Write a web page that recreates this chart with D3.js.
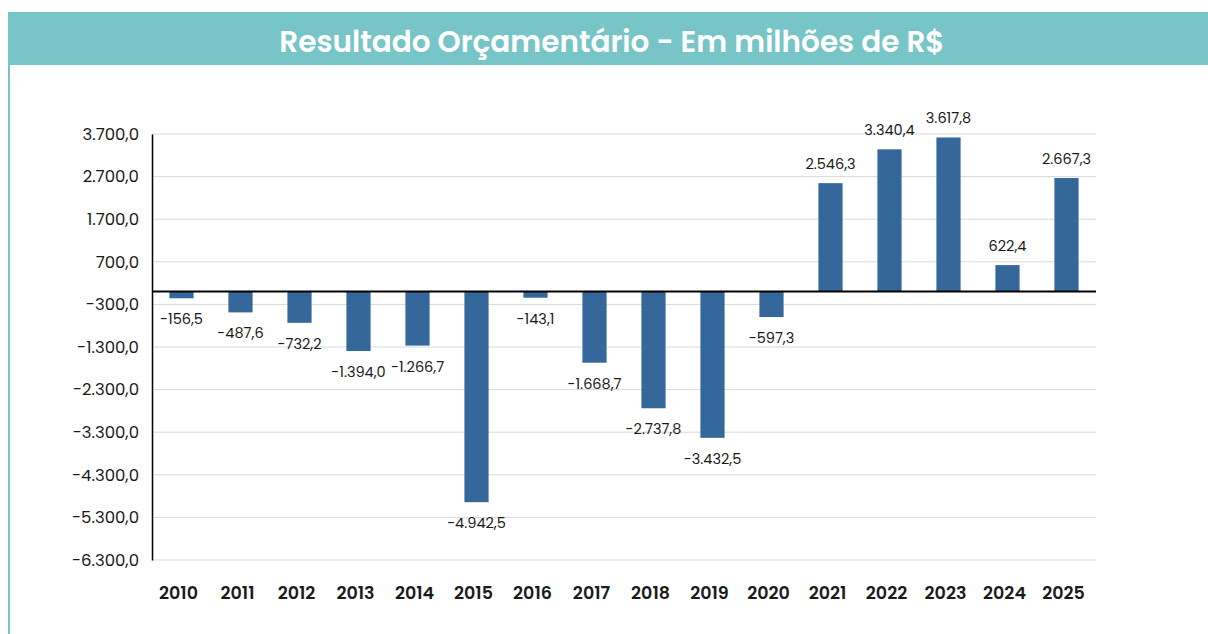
<!DOCTYPE html>
<html>
<head>
<meta charset="utf-8">
<script src="https://cdn.jsdelivr.net/npm/d3@7"></script>
<style>
  body { margin: 0; background: #fff; }
  svg { display: block; font-family: 'Poppins', 'Inter', 'Open Sans', sans-serif; }
</style>
</head>
<body>
<div id="chart-area"></div>
<script>
var years = ['2010', '2011', '2012', '2013', '2014', '2015', '2016', '2017',
  '2018', '2019', '2020', '2021', '2022', '2023', '2024', '2025'];
var resultado = [-156.5, -487.6, -732.2, -1394.0, -1266.7, -4942.5, -143.1, -1668.7,
  -2737.8, -3432.5, -597.3, 2546.3, 3340.4, 3617.8, 622.4, 2667.3];
var yTicks = [3700, 2700, 1700, 700, -300, -1300, -2300, -3300, -4300, -5300, -6300];
var titulo = 'Resultado Orçamentário - Em milhões de R$';

var W = 1208, H = 634;
var margin = { left: 152, right: 112, top: 134, bottom: 74 };
var width = W - margin.left - margin.right;
var height = H - margin.top - margin.bottom;

var br = d3.formatLocale({ decimal: ',', thousands: '.', grouping: [3], currency: ['R$', ''], minus: '-' });
var fmt = br.format(',.1f');

var svg = d3.select('#chart-area')
  .append('svg')
  .attr('width', W)
  .attr('height', H);

// moldura / faixa do título
svg.append('rect')
  .attr('x', 8).attr('y', 12)
  .attr('width', W - 8).attr('height', 53)
  .attr('fill', '#78c5c8');
svg.append('rect')
  .attr('x', 8).attr('y', 65)
  .attr('width', 2).attr('height', H - 65)
  .attr('fill', '#78c5c8');
svg.append('text')
  .attr('x', 612).attr('y', 44)
  .attr('text-anchor', 'middle')
  .attr('dominant-baseline', 'middle')
  .attr('fill', '#fff')
  .attr('font-size', '29.5px')
  .attr('font-weight', 600)
  .text(titulo);

var g = svg.append('g')
  .attr('transform', `translate(${margin.left}, ${margin.top})`);

var x = d3.scaleBand()
  .domain(years)
  .range([0, width])
  .paddingInner(0.59)
  .paddingOuter(0.295);

var y = d3.scaleLinear()
  .domain([-6300, 3700])
  .range([height, 0]);

// grade
g.append('g')
  .selectAll('line')
  .data(yTicks)
  .enter().append('line')
  .attr('x1', 0).attr('x2', width)
  .attr('y1', d => y(d)).attr('y2', d => y(d))
  .attr('stroke', '#d9d9d9')
  .attr('stroke-width', 1);

var yAxisCall = d3.axisLeft(y)
  .tickValues(yTicks)
  .tickSize(0)
  .tickPadding(13)
  .tickFormat(fmt);
var yAxis = g.append('g')
  .attr('class', 'y axis')
  .call(yAxisCall)
  .attr('font-family', null)
  .attr('font-size', null);
yAxis.select('.domain').attr('stroke', '#000').attr('stroke-width', 1.5);
yAxis.selectAll('text')
  .attr('font-size', '16.5px')
  .attr('fill', '#1a1a1a');

// barras
g.selectAll('rect.bar')
  .data(resultado)
  .enter().append('rect')
  .attr('class', 'bar')
  .attr('x', (d, i) => x(years[i]))
  .attr('width', x.bandwidth())
  .attr('y', d => y(Math.max(0, d)))
  .attr('height', d => Math.abs(y(d) - y(0)))
  .attr('fill', '#35679a');

// linha do zero
g.append('line')
  .attr('x1', 0).attr('x2', width)
  .attr('y1', y(0)).attr('y2', y(0))
  .attr('stroke', '#000')
  .attr('stroke-width', 2);

// rótulos de valor
g.selectAll('text.val')
  .data(resultado)
  .enter().append('text')
  .attr('class', 'val')
  .attr('x', (d, i) => x(years[i]) + x.bandwidth() / 2)
  .attr('y', d => d >= 0 ? y(d) - 18 : y(d) + 22)
  .attr('text-anchor', 'middle')
  .attr('dominant-baseline', 'middle')
  .attr('font-size', '14.5px')
  .attr('fill', '#1a1a1a')
  .text(d => fmt(d));

// anos
var xAxisCall = d3.axisBottom(x).tickSize(0).tickPadding(0);
var xAxis = g.append('g')
  .attr('class', 'x axis')
  .attr('transform', `translate(-3, ${height + 27})`)
  .call(xAxisCall)
  .attr('font-family', null)
  .attr('font-size', null);
xAxis.select('.domain').remove();
xAxis.selectAll('text')
  .attr('font-size', '17.5px')
  .attr('font-weight', 600)
  .attr('fill', '#1a1a1a');
</script>
</body>
</html>
